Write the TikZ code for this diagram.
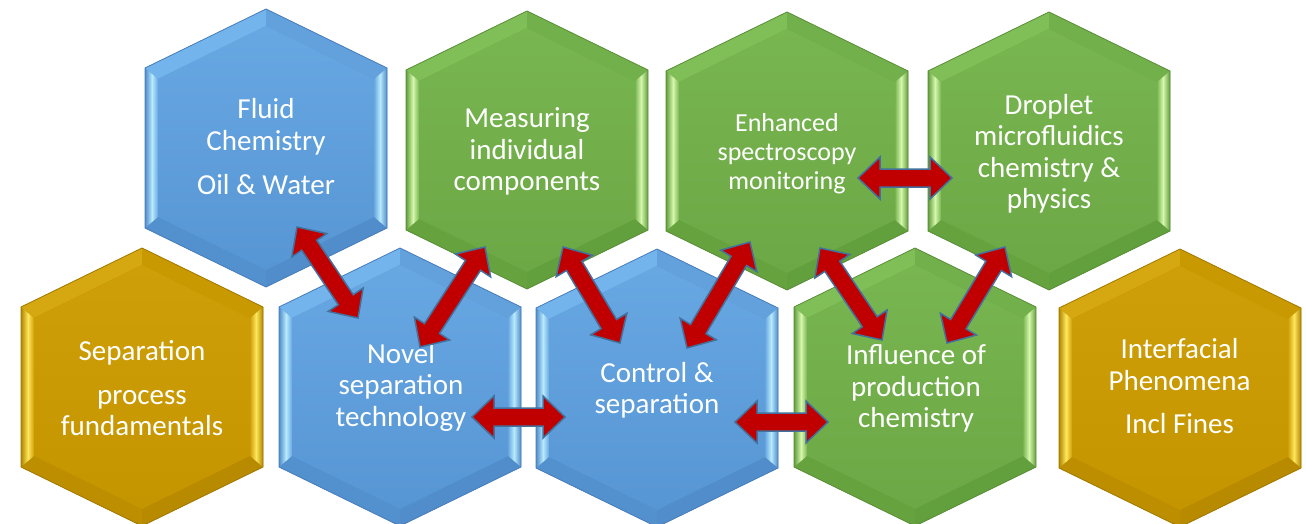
\documentclass[tikz,border=0pt]{standalone}
\usepackage{fontspec}
\setmainfont{Carlito}
\usetikzlibrary{calc}
% blue
\definecolor{Bft}{HTML}{67A7E2}\definecolor{Bfb}{HTML}{5796D4}
\definecolor{Btl}{HTML}{74B4EC}\definecolor{Btr}{HTML}{62A1DC}
\definecolor{Bbl}{HTML}{5290CE}\definecolor{Bbr}{HTML}{508DCA}
\definecolor{Blt}{HTML}{B8E9FC}\definecolor{Bbv}{HTML}{4F8CCB}
\definecolor{Bol}{HTML}{4A7EBB}
% green
\definecolor{Gft}{HTML}{78B651}\definecolor{Gfb}{HTML}{6CA845}
\definecolor{Gtl}{HTML}{80BF58}\definecolor{Gtr}{HTML}{72B04B}
\definecolor{Gbl}{HTML}{66A33F}\definecolor{Gbr}{HTML}{629F3D}
\definecolor{Glt}{HTML}{D6F7AC}\definecolor{Gbv}{HTML}{609D3C}
\definecolor{Gol}{HTML}{5B8F3A}
% gold
\definecolor{Yft}{HTML}{CE9F08}\definecolor{Yfb}{HTML}{C59500}
\definecolor{Ytl}{HTML}{D5A710}\definecolor{Ytr}{HTML}{C89900}
\definecolor{Ybl}{HTML}{BC8E00}\definecolor{Ybr}{HTML}{B78A00}
\definecolor{Ylt}{HTML}{FFE65A}\definecolor{Ybv}{HTML}{B18600}
\definecolor{Yol}{HTML}{A37A00}
% arrows
\definecolor{arrowred}{HTML}{C00000}
\definecolor{arrowedge}{HTML}{41719C}

\tikzset{
  pics/hexa/.style={code={
    \fill[#1bv] (-121,-80) -- (0,-139) -- (121,-80) -- (121,80) -- (0,139) -- (-121,80) -- cycle;
    \fill[#1tl] (-121,-80) -- (0,-139) -- (0,-122) -- (-108,-69) -- cycle;
    \fill[#1tr] (0,-139) -- (121,-80) -- (108,-69) -- (0,-122) -- cycle;
    \fill[#1br] (121,80) -- (0,139) -- (0,122) -- (108,69) -- cycle;
    \fill[#1bl] (0,139) -- (-121,80) -- (-108,69) -- (0,122) -- cycle;
    % left side facet: darker outside, bright band inside
    \shade[left color=#1bv, right color=#1lt] (-121,80) -- (-121,-80) -- (-114,-74) -- (-114,74) -- cycle;
    \shade[left color=#1lt, right color=#1ft] (-114,74) -- (-114,-74) -- (-108,-69) -- (-108,69) -- cycle;
    % right side facet
    \shade[left color=#1ft, right color=#1lt] (108,-69) -- (114,-74) -- (114,74) -- (108,69) -- cycle;
    \shade[left color=#1lt, right color=#1bv] (114,-74) -- (121,-80) -- (121,80) -- (114,74) -- cycle;
    % face
    \shade[top color=#1ft, bottom color=#1fb] (-108,-69) -- (0,-122) -- (108,-69) -- (108,69) -- (0,122) -- (-108,69) -- cycle;
    \draw[#1ol, line width=0.8pt, line join=miter] (-121,-80) -- (0,-139) -- (121,-80) -- (121,80) -- (0,139) -- (-121,80) -- cycle;
  }},
  hextext/.style={text=white, align=center, inner sep=0pt, font=\fontsize{29}{31.5}\selectfont},
  smalltext/.style={text=white, align=center, inner sep=0pt, font=\fontsize{26}{29}\selectfont},
  blockarrow/.style={fill=arrowred, draw=arrowedge, line width=1.5pt, line join=miter},
}

\newcommand\blockarr[2]{%
  \coordinate (#1#2ha) at ($(#1)!22pt!(#2)$);
  \coordinate (#1#2hb) at ($(#2)!22pt!(#1)$);
  \draw[blockarrow] (#1)
    -- ($(#1#2ha)!21pt!90:(#2)$)
    -- ($(#1#2ha)!9pt!90:(#2)$)
    -- ($(#1#2hb)!9pt!-90:(#1)$)
    -- ($(#1#2hb)!21pt!-90:(#1)$)
    -- (#2)
    -- ($(#1#2hb)!21pt!90:(#1)$)
    -- ($(#1#2hb)!9pt!90:(#1)$)
    -- ($(#1#2ha)!9pt!-90:(#2)$)
    -- ($(#1#2ha)!21pt!-90:(#2)$)
    -- cycle;
}

\begin{document}
\begin{tikzpicture}[x=1pt,y=-1pt]
\useasboundingbox (0,0) rectangle (1306,524);
\clip (0,0) rectangle (1306,524);
\fill[white] (0,0) rectangle (1306,524);

% hexagon centres
\coordinate (F) at (266,148);
\coordinate (M) at (527,150);
\coordinate (E) at (787,151);
\coordinate (D) at (1049,151);
\coordinate (S) at (142,387);
\coordinate (N) at (400,387);
\coordinate (C) at (657,388);
\coordinate (I) at (915,387);
\coordinate (P) at (1180,388);

% hexagons
\pic at (F) {hexa=B};
\pic at (M) {hexa=G};
\pic at (E) {hexa=G};
\pic at (D) {hexa=G};
\pic at (S) {hexa=Y};
\pic at (N) {hexa=B};
\pic at (C) {hexa=B};
\pic at (I) {hexa=G};
\pic at (P) {hexa=Y};

% texts
\node[hextext] (Ftxt) at (266,150.5) {\strut Fluid\\\strut Chemistry\\[13pt]\strut Oil \& Water};
\node[hextext] (Mtxt) at (527,153) {\strut Measuring\\\strut individual\\\strut components};
\node[smalltext] (Etxt) at (787,154.5) {\strut Enhanced\\\strut spectroscopy\\\strut monitoring};
\node[hextext] (Dtxt) at (1049,155) {\strut Droplet\\\strut microfluidics\\\strut chemistry \&\\\strut physics};
\node[hextext] (Stxt) at (142,391.5) {\strut Separation\\[12.5pt]\strut process\\\strut fundamentals};
\node[hextext] (Ntxt) at (401,388.5) {\strut Novel\\\strut separation\\\strut technology};
\node[hextext] (Ctxt) at (657,391.5) {\strut Control \&\\\strut separation};
\node[hextext] (Itxt) at (916,389.7) {\strut Influence of\\\strut production\\\strut chemistry};
\node[hextext] (Ptxt) at (1179.5,390) {\strut Interfacial\\\strut Phenomena\\[12pt]\strut Incl Fines};

% arrow end points
\coordinate (fn1) at ($(F)+(31,79)$);  \coordinate (fn2) at ($(N)+(-42,-69)$);
\coordinate (mn1) at ($(M)+(-42,97)$); \coordinate (mn2) at ($(N)+(20,-40)$);
\coordinate (mc1) at ($(M)+(36,97)$);  \coordinate (mc2) at ($(C)+(-37,-45)$);
\coordinate (ec1) at ($(E)+(-37,91)$); \coordinate (ec2) at ($(C)+(30,-40)$);
\coordinate (ei1) at ($(E)+(33,97)$);  \coordinate (ei2) at ($(I)+(-33,-47)$);
\coordinate (di1) at ($(D)+(-44,96)$); \coordinate (di2) at ($(I)+(32,-44)$);
\coordinate (nc1) at ($(N)+(72,30)$);  \coordinate (nc2) at ($(C)+(-92,29)$);
\coordinate (ci1) at ($(C)+(78,34)$);  \coordinate (ci2) at ($(I)+(-87,35)$);
\coordinate (ed1) at ($(E)+(71,27)$);  \coordinate (ed2) at ($(D)+(-97,27)$);

\blockarr{fn1}{fn2}
\blockarr{mn1}{mn2}
\blockarr{mc1}{mc2}
\blockarr{ec1}{ec2}
\blockarr{ei1}{ei2}
\blockarr{di1}{di2}
\blockarr{nc1}{nc2}
\blockarr{ci1}{ci2}
\blockarr{ed1}{ed2}
\end{tikzpicture}
\end{document}
